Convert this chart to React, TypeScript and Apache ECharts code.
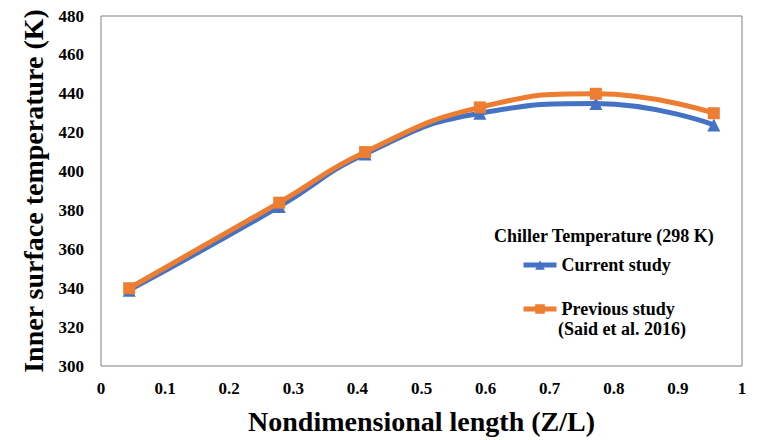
import React, { useEffect, useRef } from "react";
import * as echarts from "echarts";

const xValues = [0.044, 0.278, 0.412, 0.591, 0.772, 0.956];
const currentStudy = [339, 382, 409, 430, 435, 424];
const previousStudy = [340, 384, 410, 433, 440, 430];
const seriesNames = ["Current study", "Previous study"];
const legendTitle = "Chiller Temperature (298 K)";
const previousNote = "(Said et al. 2016)";
const xTitle = "Nondimensional length (Z/L)";
const yTitle = "Inner surface temperature (K)";

const FONT = "Liberation Serif";

export default function App() {
  const ref = useRef<HTMLDivElement>(null);
  useEffect(() => {
    if (!ref.current) return;
    const chart = echarts.init(ref.current, undefined, { renderer: "svg" });
    chart.setOption({
      animation: false,
      backgroundColor: "#ffffff",
      grid: {
        left: 101,
        right: 16,
        top: 16,
        bottom: 67,
        show: true,
        borderColor: "#808080",
        borderWidth: 1,
        backgroundColor: "transparent",
      },
      xAxis: {
        type: "value",
        min: 0,
        max: 1,
        interval: 0.1,
        name: xTitle,
        nameLocation: "middle",
        nameGap: 41,
        nameTextStyle: { fontFamily: FONT, fontWeight: "bold", fontSize: 28, color: "#000" },
        axisLine: { show: false },
        axisTick: { show: false },
        splitLine: { show: false },
        axisLabel: { fontFamily: FONT, fontWeight: "bold", fontSize: 17, color: "#000", margin: 14 },
      },
      yAxis: {
        type: "value",
        min: 300,
        max: 480,
        interval: 20,
        name: yTitle,
        nameLocation: "middle",
        nameGap: 47,
        nameTextStyle: { fontFamily: FONT, fontWeight: "bold", fontSize: 28, color: "#000" },
        axisLine: { show: false },
        axisTick: { show: false },
        splitLine: { show: false },
        axisLabel: { fontFamily: FONT, fontWeight: "bold", fontSize: 17, color: "#000", margin: 17 },
      },
      legend: {
        orient: "vertical",
        left: 516,
        top: 251,
        itemWidth: 33,
        itemHeight: 12,
        itemGap: 26,
        data: seriesNames,
        lineStyle: { width: 5 },
        textStyle: { fontFamily: FONT, fontWeight: "bold", fontSize: 18, lineHeight: 18, color: "#000" },
      },
      graphic: [
        {
          type: "text",
          left: 494,
          top: 227,
          style: { text: legendTitle, fontFamily: FONT, fontWeight: "bold", fontSize: 18, lineHeight: 18, fill: "#000" },
        },
        {
          type: "text",
          left: 558,
          top: 320,
          style: { text: previousNote, fontFamily: FONT, fontWeight: "bold", fontSize: 18, lineHeight: 18, fill: "#000" },
        },
      ],
      series: [
        {
          name: seriesNames[0],
          type: "line",
          smooth: true,
          data: xValues.map((x, i) => [x, currentStudy[i]]),
          symbol: "triangle",
          symbolSize: 13,
          lineStyle: { width: 5, color: "#4472C4" },
          itemStyle: { color: "#4472C4" },
        },
        {
          name: seriesNames[1],
          type: "line",
          smooth: true,
          data: xValues.map((x, i) => [x, previousStudy[i]]),
          symbol: "rect",
          symbolSize: 12,
          lineStyle: { width: 5, color: "#ED7D31" },
          itemStyle: { color: "#ED7D31" },
        },
      ],
    });
    return () => chart.dispose();
  }, []);
  return <div ref={ref} style={{ width: 758, height: 440, position: "absolute", left: 0, top: 0 }} />;
}
